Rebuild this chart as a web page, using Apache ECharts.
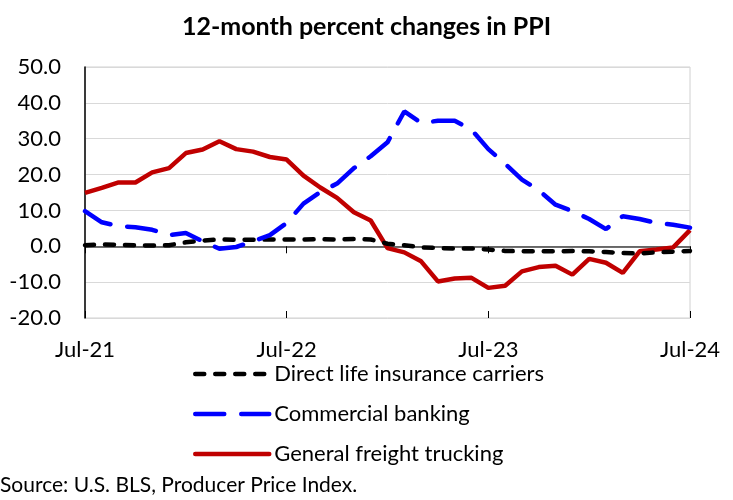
<!DOCTYPE html>
<html>
<head>
<meta charset="utf-8">
<script src="https://cdn.jsdelivr.net/npm/echarts@6/dist/echarts.min.js"></script>
<style>
  html, body { margin: 0; padding: 0; background: #fff; }
  #chart { width: 733px; height: 500px; }
</style>
</head>
<body>
<div id="chart"></div>
<script>
// 月份 Jul-21 ... Jul-24
const months = ['Jul-21', 'Aug-21', 'Sep-21', 'Oct-21', 'Nov-21', 'Dec-21',
  'Jan-22', 'Feb-22', 'Mar-22', 'Apr-22', 'May-22', 'Jun-22',
  'Jul-22', 'Aug-22', 'Sep-22', 'Oct-22', 'Nov-22', 'Dec-22',
  'Jan-23', 'Feb-23', 'Mar-23', 'Apr-23', 'May-23', 'Jun-23',
  'Jul-23', 'Aug-23', 'Sep-23', 'Oct-23', 'Nov-23', 'Dec-23',
  'Jan-24', 'Feb-24', 'Mar-24', 'Apr-24', 'May-24', 'Jun-24', 'Jul-24']

const lifeInsurance = [0.3, 0.5, 0.4, 0.3, 0.2, 0.3, 1.1, 1.6, 1.9, 1.8, 1.8, 1.9,
  1.9, 1.9, 2.0, 1.9, 2.0, 1.9, 0.7, 0.3, -0.3, -0.5, -0.6, -0.6,
  -0.9, -1.3, -1.4, -1.4, -1.4, -1.3, -1.4, -1.6, -1.9, -2.0, -1.7, -1.5, -1.3]

const banking = [9.8, 6.7, 5.6, 5.3, 4.6, 3.1, 3.7, 1.4, -0.7, -0.2, 1.4, 3.1,
  6.5, 11.9, 15.1, 17.5, 21.8, 25.1, 29.0, 37.6, 34.4, 35.0, 35.0, 32.5,
  27.1, 23.0, 18.6, 15.6, 11.6, 9.8, 7.6, 4.8, 8.4, 7.6, 6.5, 6.0, 5.2]

const trucking = [14.9, 16.3, 17.8, 17.8, 20.6, 21.8, 26.0, 27.0, 29.3, 27.1, 26.4, 24.9,
  24.2, 19.7, 16.4, 13.5, 9.5, 7.2, -0.5, -1.7, -4.2, -9.8, -9.0, -8.8,
  -11.6, -11.0, -7.0, -5.8, -5.4, -7.9, -3.5, -4.6, -7.4, -1.4, -0.9, -0.3, 4.5]

const font = 'Lato, "Noto Sans", sans-serif'
const chart = echarts.init(document.getElementById('chart'))

const showYearly = (i) => i % 12 === 0

chart.setOption({
  backgroundColor: '#fff',
  animation: false,
  title: {
    text: '12-month percent changes in PPI',
    left: 'center',
    top: 9,
    textStyle: { fontFamily: font, fontSize: 25, fontWeight: 'bold', color: '#000' },
  },
  graphic: [{
    type: 'text',
    left: 0,
    top: 475,
    style: { text: 'Source: U.S. BLS, Producer Price Index.', font: '21px ' + font, fill: '#000' },
  }],
  legend: {
    orient: 'vertical',
    left: 188,
    top: 358,
    itemWidth: 74,
    itemHeight: 20,
    itemGap: 18,
    itemStyle: { opacity: 0 },
    lineStyle: { width: 4.5, cap: 'round' },
    textStyle: { fontFamily: font, fontSize: 22, color: '#000' },
    data: ['Direct life insurance carriers', 'Commercial banking', 'General freight trucking'],
  },
  grid: {
    left: 85, right: 43, top: 67, bottom: 182,
    show: true, borderColor: '#d0d0d0', borderWidth: 1,
  },
  xAxis: [
    {
      // 底部标签
      type: 'category',
      data: months,
      boundaryGap: false,
      position: 'bottom',
      axisLine: { show: false, onZero: false },
      axisTick: { show: false },
      axisLabel: {
        interval: 0,
        formatter: (v, i) => (showYearly(i) ? v : ''),
        margin: 21,
        fontFamily: font, fontSize: 22, color: '#000',
      },
    },
    {
      // 零线 + 刻度
      type: 'category',
      data: months,
      boundaryGap: false,
      position: 'bottom',
      axisLine: { show: true, onZero: true, lineStyle: { color: '#404040', width: 1.5 } },
      axisTick: { show: true, interval: (i) => showYearly(i), length: 7, lineStyle: { color: '#000' } },
      axisLabel: { show: false },
    },
    {
      type: 'category',
      data: months,
      boundaryGap: false,
      position: 'bottom',
      axisLine: { show: false, onZero: true },
      axisTick: { show: true, inside: true, interval: (i) => showYearly(i), length: 7, lineStyle: { color: '#000' } },
      axisLabel: { show: false },
    },
  ],
  yAxis: {
    type: 'value',
    min: -20,
    max: 50,
    interval: 10,
    axisLine: { show: true, lineStyle: { color: '#000', width: 1.5 } },
    axisTick: { show: false },
    splitLine: { lineStyle: { color: '#d9d9d9', width: 1 } },
    axisLabel: {
      formatter: (v) => v.toFixed(1),
      margin: 24,
      fontFamily: font, fontSize: 22, color: '#000',
    },
  },
  series: [
    {
      name: 'Direct life insurance carriers',
      type: 'line',
      data: lifeInsurance,
      symbol: 'none',
      z: 3,
      itemStyle: { color: '#000' },
      lineStyle: { color: '#000', width: 4.5, type: [9, 11], cap: 'round' },
    },
    {
      name: 'Commercial banking',
      type: 'line',
      data: banking,
      symbol: 'none',
      z: 4,
      itemStyle: { color: '#0000ff' },
      lineStyle: { color: '#0000ff', width: 4.5, type: [29, 17], cap: 'round' },
    },
    {
      name: 'General freight trucking',
      type: 'line',
      data: trucking,
      symbol: 'none',
      z: 2,
      itemStyle: { color: '#c00000' },
      lineStyle: { color: '#c00000', width: 4.5 },
    },
  ],
})
</script>
</body>
</html>
